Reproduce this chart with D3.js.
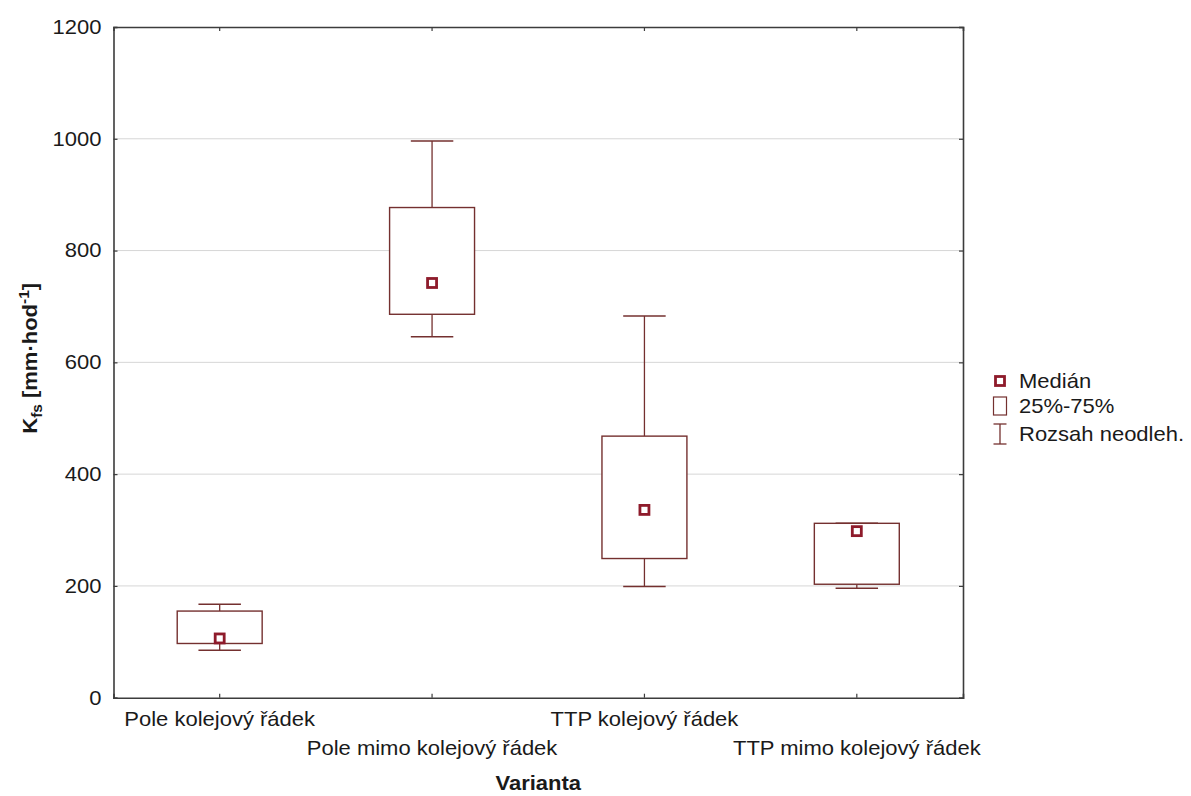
<!DOCTYPE html>
<html><head><meta charset="utf-8">
<script src="https://cdn.jsdelivr.net/npm/d3@7"></script>
<style>
body{margin:0;background:#fff;}
text{font-family:"Liberation Sans",Arial,sans-serif;fill:#1a1a1a;}
</style></head>
<body>
<svg id="chart" width="1191" height="796"></svg>
<script>
const categories = ["Pole kolejový řádek","Pole mimo kolejový řádek","TTP kolejový řádek","TTP mimo kolejový řádek"];
const medians = [106, 742, 336, 298];
const q1Vals = [97, 686, 249, 203];
const q3Vals = [155, 877, 468, 312];
const minVals = [85, 646, 199, 196];
const maxVals = [167, 996, 683, 312];
const yTicks = [0, 200, 400, 600, 800, 1000, 1200];
const legendLabels = ["Medián", "25%-75%", "Rozsah neodleh."];

const data = categories.map((c,i)=>({cat:c, med:medians[i], q1:q1Vals[i], q3:q3Vals[i], lo:minVals[i], hi:maxVals[i]}));

const W=1191, H=796;
const m={left:113.5, top:27, right:W-963, bottom:H-697.7};
const iw=W-m.left-m.right, ih=H-m.top-m.bottom;
const FS=20, SX=1.1;
const boxCol="#74302f", medCol="#8e1b2b", axisCol="#3c3c3c";

const svg=d3.select("#chart");
const g=svg.append("g").attr("transform",`translate(${m.left},${m.top})`);

const x=d3.scaleBand().domain(categories).range([0,iw]).padding(0);
const y=d3.scaleLinear().domain([0,1200]).range([ih,0]);

// gridlines
g.append("g").selectAll("line").data(yTicks.filter(t=>t>0&&t<1200)).join("line")
  .attr("x1",0).attr("x2",iw).attr("y1",d=>y(d)).attr("y2",d=>y(d))
  .attr("stroke","#d6d6d6").attr("stroke-width",1);

// boxes
const bw=x.bandwidth()*0.40, cw=x.bandwidth()*0.20;
const bx=g.append("g").selectAll("g").data(data).join("g")
  .attr("transform",d=>`translate(${x(d.cat)+x.bandwidth()/2},0)`);
bx.append("line").attr("x1",0).attr("x2",0).attr("y1",d=>y(d.hi)).attr("y2",d=>y(d.q3)).attr("stroke",boxCol).attr("stroke-width",1.3);
bx.append("line").attr("x1",0).attr("x2",0).attr("y1",d=>y(d.q1)).attr("y2",d=>y(d.lo)).attr("stroke",boxCol).attr("stroke-width",1.3);
bx.append("line").attr("x1",-cw/2).attr("x2",cw/2).attr("y1",d=>y(d.hi)).attr("y2",d=>y(d.hi)).attr("stroke",boxCol).attr("stroke-width",1.5);
bx.append("line").attr("x1",-cw/2).attr("x2",cw/2).attr("y1",d=>y(d.lo)).attr("y2",d=>y(d.lo)).attr("stroke",boxCol).attr("stroke-width",1.5);
bx.append("rect").attr("x",-bw/2).attr("width",bw).attr("y",d=>y(d.q3)).attr("height",d=>y(d.q1)-y(d.q3))
  .attr("fill","#fff").attr("stroke",boxCol).attr("stroke-width",1.4);
bx.append("rect").attr("x",-4.5).attr("width",9).attr("y",d=>y(d.med)-4.5).attr("height",9)
  .attr("fill","#fff").attr("stroke",medCol).attr("stroke-width",2.8);

// axes
const yAxis=g.append("g").call(d3.axisLeft(y).tickValues(yTicks).tickSize(-4).tickPadding(11).tickFormat(d3.format("d")));
const yAxisR=g.append("g").attr("transform",`translate(${iw},0)`).call(d3.axisRight(y).tickValues(yTicks).tickSize(-4).tickFormat(""));
const xAxis=g.append("g").attr("transform",`translate(0,${ih})`).call(d3.axisBottom(x).tickSize(-4).tickPadding(0));
const xAxisT=g.append("g").call(d3.axisTop(x).tickSize(-4).tickFormat(""));
[yAxis,yAxisR,xAxis,xAxisT].forEach(a=>{
  a.select(".domain").attr("stroke",axisCol).attr("stroke-width",1.6);
  a.selectAll(".tick line").attr("stroke",axisCol).attr("stroke-width",1.2);
});
yAxis.selectAll(".tick text").attr("font-size",FS).attr("fill","#1a1a1a")
  .attr("font-family",'"Liberation Sans",Arial,sans-serif')
  .attr("transform",`scale(${SX},1)`);
xAxis.selectAll(".tick text").attr("font-size",FS).attr("fill","#1a1a1a")
  .attr("font-family",'"Liberation Sans",Arial,sans-serif')
  .attr("y",(d,i)=>i%2===0?14:43).attr("dy","0.71em")
  .attr("transform",`scale(${SX},1)`);

// axis titles
svg.append("text").attr("transform",`translate(${(m.left+W-m.right)/2},790) scale(${SX},1)`)
  .attr("text-anchor","middle").attr("font-size",FS).attr("font-weight","bold").text("Varianta");

const yl=svg.append("text").attr("transform",`translate(37,${m.top+ih/2-4}) rotate(-90) scale(${SX},1)`)
  .attr("text-anchor","middle").attr("font-size",FS).attr("font-weight","bold");
yl.append("tspan").text("K");
yl.append("tspan").attr("font-size",14).attr("dy",5).text("fs");
yl.append("tspan").attr("dy",-5).text(" [mm·hod");
yl.append("tspan").attr("font-size",14).attr("dy",-8).text("-1");
yl.append("tspan").attr("dy",8).text("]");

// legend
const lg=svg.append("g");
const lx=1000, ly=[381,406,434];
lg.append("rect").attr("x",lx-4.5).attr("y",ly[0]-4.5).attr("width",9).attr("height",9)
  .attr("fill","#fff").attr("stroke",medCol).attr("stroke-width",2.8);
lg.append("rect").attr("x",lx-6.5).attr("y",ly[1]-9).attr("width",13).attr("height",18)
  .attr("fill","#fff").attr("stroke",boxCol).attr("stroke-width",1.2);
lg.append("line").attr("x1",lx-6.5).attr("x2",lx+6.5).attr("y1",ly[2]-10).attr("y2",ly[2]-10).attr("stroke",boxCol).attr("stroke-width",1.3);
lg.append("line").attr("x1",lx-6.5).attr("x2",lx+6.5).attr("y1",ly[2]+10).attr("y2",ly[2]+10).attr("stroke",boxCol).attr("stroke-width",1.3);
lg.append("line").attr("x1",lx).attr("x2",lx).attr("y1",ly[2]-10).attr("y2",ly[2]+10).attr("stroke",boxCol).attr("stroke-width",1.3);
lg.selectAll("text.lt").data(legendLabels).join("text").attr("class","lt")
  .attr("transform",(d,i)=>`translate(1019,${ly[i]+7}) scale(${SX},1)`)
  .attr("font-size",FS).text(d=>d);
</script>
</body></html>
